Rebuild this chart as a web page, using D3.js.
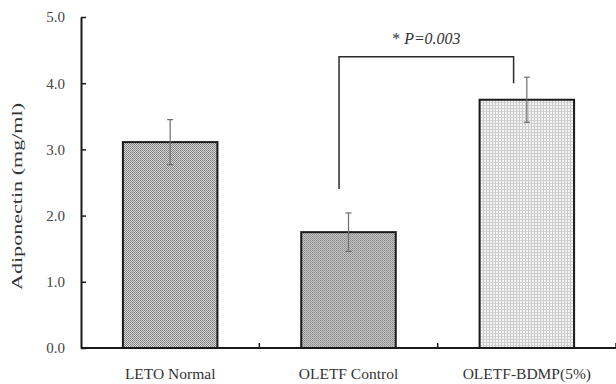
<!DOCTYPE html>
<html lang="en">
<head>
    <meta charset="UTF-8">
    <title>Adiponectin</title>
    <style>
        html, body { margin: 0; padding: 0; background: #fff; }
        svg { display: block; font-family: "Liberation Serif", "Times New Roman", serif; }
    </style>
</head>
<body>
    <div id="wrapper"></div>
    <script src="https://cdn.jsdelivr.net/npm/d3@7"></script>
    <script>
        // data
        const groups = ['LETO Normal', 'OLETF Control', 'OLETF-BDMP(5%)'];
        const means = [3.11, 1.75, 3.75];
        const errors = [0.34, 0.29, 0.34];
        const yTicks = [0, 1, 2, 3, 4, 5];
        const pLabel = 'P=0.003';
        // bracket: from group 1 to group 2, left foot, top, right foot
        const bracketGroups = [1, 2];
        const bracketLevels = [2.4, 4.4, 4.0];

        const width = 616, height = 384;
        const plotLeft = 81, plotRight = 616, plotTop = 17, plotBottom = 348;

        const svg = d3.select('#wrapper').append('svg')
            .attr('width', width)
            .attr('height', height);

        // patterns
        const defs = svg.append('defs');
        const p1 = defs.append('pattern').attr('id', 'p1')
            .attr('width', 2).attr('height', 2).attr('patternUnits', 'userSpaceOnUse');
        p1.append('rect').attr('width', 2).attr('height', 2).attr('fill', '#d8d8d8');
        p1.append('rect').attr('width', 1).attr('height', 1).attr('fill', '#7c7c7c');
        p1.append('rect').attr('x', 1).attr('y', 1).attr('width', 1).attr('height', 1).attr('fill', '#868686');

        const p2 = defs.append('pattern').attr('id', 'p2')
            .attr('width', 2).attr('height', 2).attr('patternUnits', 'userSpaceOnUse');
        p2.append('rect').attr('width', 2).attr('height', 2).attr('fill', '#c4c4c4');
        p2.append('rect').attr('width', 1).attr('height', 1).attr('fill', '#8a8a8a');
        p2.append('rect').attr('x', 1).attr('y', 1).attr('width', 1).attr('height', 1).attr('fill', '#9a9a9a');

        const p3 = defs.append('pattern').attr('id', 'p3')
            .attr('width', 3).attr('height', 3).attr('patternUnits', 'userSpaceOnUse');
        p3.append('rect').attr('width', 3).attr('height', 3).attr('fill', '#f4f4f4');
        p3.append('rect').attr('width', 1).attr('height', 3).attr('fill', '#c8c8c8');
        p3.append('rect').attr('width', 3).attr('height', 1).attr('fill', '#d0d0d0');

        const fills = ['url(#p1)', 'url(#p2)', 'url(#p3)'];

        // scales
        const xScale = d3.scaleBand()
            .domain(groups)
            .range([plotLeft, plotRight])
            .paddingInner(0.47)
            .paddingOuter(0.235);

        const yScale = d3.scaleLinear()
            .domain([0, 5])
            .range([plotBottom, plotTop]);

        const step = xScale.step();
        const cx = i => xScale(groups[i]) + xScale.bandwidth() / 2;

        // bars
        svg.append('g')
            .selectAll('rect')
            .data(means)
            .join('rect')
            .attr('x', (d, i) => xScale(groups[i]))
            .attr('y', d => yScale(d))
            .attr('width', xScale.bandwidth())
            .attr('height', d => plotBottom - yScale(d))
            .attr('fill', (d, i) => fills[i])
            .attr('stroke', '#1a1a1a')
            .attr('stroke-width', 2);

        // error bars
        const err = svg.append('g')
            .attr('stroke', '#6e6e6e')
            .attr('stroke-width', 1.2);
        means.forEach((m, i) => {
            const x = cx(i);
            err.append('line')
                .attr('x1', x).attr('x2', x)
                .attr('y1', yScale(m + errors[i])).attr('y2', yScale(m - errors[i]));
            [m + errors[i], m - errors[i]].forEach(v => {
                err.append('line')
                    .attr('x1', x - 3).attr('x2', x + 3)
                    .attr('y1', yScale(v)).attr('y2', yScale(v));
            });
        });

        // y axis
        const yAxis = d3.axisLeft(yScale)
            .tickValues(yTicks)
            .tickFormat(d3.format('.1f'))
            .tickSizeInner(-5)
            .tickSizeOuter(0)
            .tickPadding(16);

        const yAxisLine = svg.append('g')
            .attr('transform', `translate(${plotLeft},0)`)
            .call(yAxis);
        yAxisLine.select('.domain').attr('stroke', '#1a1a1a').attr('stroke-width', 2);
        yAxisLine.selectAll('.tick line').attr('stroke', '#1a1a1a').attr('stroke-width', 1.5);
        yAxisLine.selectAll('.tick text')
            .attr('fill', '#444')
            .style('font-size', '15px')
            .style('font-family', '"Liberation Serif", serif');

        // x axis
        const xAxis = d3.axisBottom(xScale)
            .tickSize(0)
            .tickPadding(20);
        const xAxisLine = svg.append('g')
            .attr('transform', `translate(0,${plotBottom})`)
            .call(xAxis);
        xAxisLine.select('.domain').remove();
        xAxisLine.selectAll('.tick text')
            .attr('fill', '#333')
            .style('font-size', '15.5px')
            .style('font-family', '"Liberation Serif", serif');

        svg.append('line')
            .attr('x1', plotLeft).attr('x2', plotRight)
            .attr('y1', plotBottom).attr('y2', plotBottom)
            .attr('stroke', '#1a1a1a').attr('stroke-width', 2);

        // category boundary ticks
        svg.append('g')
            .selectAll('line')
            .data(groups)
            .join('line')
            .attr('x1', d => xScale(d) + xScale.bandwidth() / 2 + step / 2)
            .attr('x2', d => xScale(d) + xScale.bandwidth() / 2 + step / 2)
            .attr('y1', plotBottom)
            .attr('y2', plotBottom - 5)
            .attr('stroke', '#1a1a1a')
            .attr('stroke-width', 1.5);

        // y label
        svg.append('text')
            .attr('transform', `translate(22,${(plotTop + plotBottom) / 2 + 14}) rotate(-90)`)
            .attr('text-anchor', 'middle')
            .attr('fill', '#333')
            .style('font-size', '15.5px')
            .attr('textLength', 187)
            .attr('lengthAdjust', 'spacingAndGlyphs')
            .text('Adiponectin (mg/ml)');

        // significance bracket
        const bx1 = cx(bracketGroups[0]) - xScale.bandwidth() * 0.1;
        const bx2 = cx(bracketGroups[1]) - xScale.bandwidth() * 0.14;
        svg.append('path')
            .attr('d', `M${bx1},${yScale(bracketLevels[0])}V${yScale(bracketLevels[1])}H${bx2}V${yScale(bracketLevels[2])}`)
            .attr('fill', 'none')
            .attr('stroke', '#2a2a2a')
            .attr('stroke-width', 1.5);

        const pText = svg.append('text')
            .attr('x', (bx1 + bx2) / 2)
            .attr('y', yScale(bracketLevels[1]) - 13)
            .attr('text-anchor', 'middle')
            .attr('fill', '#333')
            .style('font-size', '17px')
            .attr('textLength', 68)
            .attr('lengthAdjust', 'spacingAndGlyphs');
        pText.append('tspan').text('* ');
        pText.append('tspan').style('font-style', 'italic').text(pLabel);
    </script>
</body>
</html>
